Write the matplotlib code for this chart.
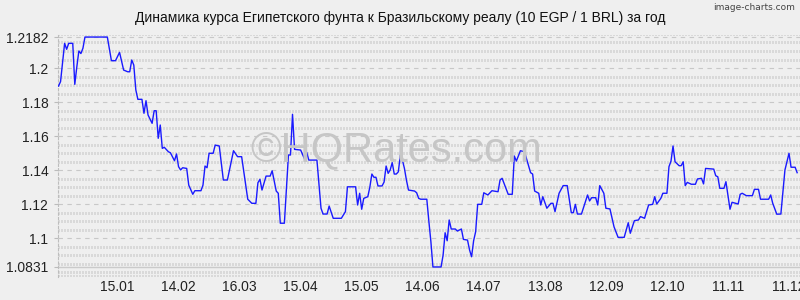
import numpy as np
import matplotlib
matplotlib.use("Agg")
import matplotlib.pyplot as plt

# EGP/BRL, 10 EGP in BRL, daily from 17.12.2024
start = np.datetime64('2024-12-17')
days = [0, 1, 3, 4, 5, 7, 8, 9, 10, 11, 12, 13, 24, 26, 28, 30, 32, 34, 35, 36,
        37, 38, 39, 41, 42, 43, 44, 46, 47, 48, 49, 50, 51, 52, 54, 55, 57, 58, 59, 60,
        61, 63, 64, 66, 67, 70, 71, 72, 73, 74, 76, 77, 79, 81, 83, 86, 88, 90, 93, 95,
        97, 98, 99, 100, 102, 104, 105, 107, 108, 109, 111, 113, 114, 115, 116, 119, 121, 122, 123, 127,
        129, 130, 132, 133, 135, 139, 140, 141, 142, 146, 147, 148, 149, 150, 152, 153, 154, 155, 156, 157,
        159, 160, 161, 162, 163, 164, 165, 166, 167, 168, 169, 170, 171, 172, 175, 176, 177, 178, 181, 182,
        183, 184, 187, 188, 189, 190, 191, 192, 193, 195, 196, 198, 199, 201, 202, 203, 204, 205, 206, 208,
        209, 211, 213, 216, 217, 218, 221, 223, 224, 225, 227, 229, 232, 233, 234, 236, 237, 238, 240, 242,
        243, 244, 246, 248, 250, 252, 253, 254, 255, 257, 260, 261, 262, 264, 265, 266, 268, 269, 271, 273,
        275, 278, 280, 281, 283, 285, 286, 288, 290, 292, 293, 294, 296, 297, 299, 300, 301, 302, 303, 305,
        306, 307, 308, 309, 311, 313, 314, 316, 317, 318, 322, 323, 324, 325, 327, 328, 330, 331, 334, 335,
        336, 338, 341, 342, 344, 345, 349, 350, 351, 353, 355, 357, 359, 360, 362, 363]
rates = [1.1894, 1.1920, 1.2145, 1.2110, 1.2145, 1.2145, 1.1904, 1.2007, 1.2100, 1.2085,
         1.2116, 1.2182, 1.2182, 1.2043, 1.2043, 1.2092, 1.1988, 1.1978, 1.1978, 1.2047,
         1.2017, 1.1871, 1.1816, 1.1816, 1.1734, 1.1808, 1.1724, 1.1675, 1.1749, 1.1749,
         1.1587, 1.1665, 1.1528, 1.1534, 1.1508, 1.1502, 1.1455, 1.1495, 1.1420, 1.1401,
         1.1414, 1.1410, 1.1312, 1.1258, 1.1279, 1.1279, 1.1312, 1.1424, 1.1414, 1.1499,
         1.1499, 1.1547, 1.1542, 1.1342, 1.1342, 1.1514, 1.1479, 1.1479, 1.1229, 1.1205,
         1.1205, 1.1326, 1.1346, 1.1283, 1.1365, 1.1365, 1.1396, 1.1277, 1.1264, 1.1088,
         1.1088, 1.1489, 1.1489, 1.1728, 1.1522, 1.1518, 1.1463, 1.1504, 1.1459, 1.1459,
         1.1176, 1.1142, 1.1142, 1.1189, 1.1117, 1.1117, 1.1136, 1.1156, 1.1302, 1.1302,
         1.1195, 1.1264, 1.1170, 1.1234, 1.1244, 1.1300, 1.1377, 1.1358, 1.1358, 1.1307,
         1.1307, 1.1330, 1.1424, 1.1381, 1.1401, 1.1444, 1.1377, 1.1377, 1.1390, 1.1489,
         1.1459, 1.1410, 1.1340, 1.1283, 1.1277, 1.1267, 1.1234, 1.1229, 1.1229, 1.1100,
         1.0980, 1.0831, 1.0831, 1.0831, 1.0900, 1.1032, 1.0985, 1.1107, 1.1054, 1.1054,
         1.1042, 1.1054, 1.0993, 1.0989, 1.0931, 1.0891, 1.0985, 1.1038, 1.1199, 1.1199,
         1.1267, 1.1254, 1.1279, 1.1273, 1.1342, 1.1352, 1.1258, 1.1258, 1.1483, 1.1453,
         1.1514, 1.1508, 1.1385, 1.1377, 1.1277, 1.1264, 1.1195, 1.1244, 1.1176, 1.1205,
         1.1205, 1.1156, 1.1264, 1.1309, 1.1309, 1.1150, 1.1150, 1.1199, 1.1142, 1.1142,
         1.1254, 1.1219, 1.1238, 1.1238, 1.1195, 1.1309, 1.1264, 1.1176, 1.1172, 1.1067,
         1.1005, 1.1005, 1.1091, 1.1029, 1.1103, 1.1107, 1.1127, 1.1117, 1.1195, 1.1199,
         1.1244, 1.1201, 1.1234, 1.1264, 1.1264, 1.1420, 1.1453, 1.1542, 1.1449, 1.1426,
         1.1426, 1.1449, 1.1309, 1.1328, 1.1317, 1.1317, 1.1348, 1.1352, 1.1319, 1.1410,
         1.1406, 1.1367, 1.1361, 1.1293, 1.1293, 1.1332, 1.1170, 1.1211, 1.1201, 1.1258,
         1.1264, 1.1250, 1.1250, 1.1287, 1.1287, 1.1229, 1.1229, 1.1254, 1.1205, 1.1141,
         1.1142, 1.1401, 1.1499, 1.1417, 1.1417, 1.1385]

tick_dates = ['2025-01-15', '2025-02-14', '2025-03-16', '2025-04-15', '2025-05-15', '2025-06-14',
              '2025-07-14', '2025-08-13', '2025-09-12', '2025-10-12', '2025-11-11', '2025-12-11']
tick_labels = ['15.01', '14.02', '16.03', '15.04', '15.05', '14.06',
               '14.07', '13.08', '12.09', '12.10', '11.11', '11.12']
ytick_vals = [1.0831, 1.1, 1.12, 1.14, 1.16, 1.18, 1.2, 1.2182]
ytick_labels = ['1.0831', '1.1', '1.12', '1.14', '1.16', '1.18', '1.2', '1.2182']

title = 'Динамика курса Египетского фунта к Бразильскому реалу (10 EGP / 1 BRL) за год'

plt.rcParams['font.family'] = ['Liberation Sans', 'DejaVu Sans']
bg = '#efefef'

fig = plt.figure(figsize=(8, 3), dpi=100, facecolor=bg)
ax = fig.add_axes([58 / 800, 23 / 300, 742 / 800, 242 / 300])
ax.set_facecolor(bg)

tick_pos = [int((np.datetime64(d) - start).astype(int)) for d in tick_dates]

# background texture rows
rows = [yv for yv in np.arange(1.080, 1.2201, 0.005)
        if not any(abs(yv - t) < 0.001 for t in ytick_vals)]
rows.append(1.0779)
for yv in rows:
    ax.axhline(yv, color='#d9d9d9', lw=2.2, dashes=(0.33, 0.33), antialiased=False, zorder=0)

# major grid
for yv in ytick_vals:
    if yv == 1.0831:
        ax.axhline(yv, color='#cacaca', lw=1.0, zorder=1)
    else:
        ax.axhline(yv, color='#c8c8c8', lw=0.8, dashes=(4, 4), zorder=1)

fig.text(396 / 800, 1 - 150 / 300, '©HQRates.com', ha='center', va='center',
         fontsize=30, color='#c6c6c6', zorder=2)

ax.plot(days, rates, color='#1a1aff', lw=1.0, zorder=3)

ax.set_xlim(-0.25, 364.4)
ax.set_ylim(1.0772, 1.2194)

ax.set_xticks(tick_pos)
ax.set_xticklabels(tick_labels, fontsize=10, color='#222222')
ax.set_yticks(ytick_vals)
ax.set_yticklabels(ytick_labels, fontsize=10, color='#222222')
ax.tick_params(axis='x', length=0, pad=2)
ax.tick_params(axis='y', length=3, color='#bbbbbb', pad=4)

for s in ['top', 'right', 'bottom']:
    ax.spines[s].set_visible(False)
ax.spines['left'].set_color('#bdbdbd')
ax.spines['left'].set_linestyle((0, (2, 2)))
ax.spines['left'].set_linewidth(0.8)

fig.text(0.5, 1 - 18 / 300, title, ha='center', va='center', fontsize=10, color='#111111')
fig.text(0.994, 1 - 7 / 300, 'image-charts.com', ha='right', va='center', fontsize=6.5,
         color='#444444', family='DejaVu Sans')

fig.savefig('out.png', dpi=100, facecolor=bg)
